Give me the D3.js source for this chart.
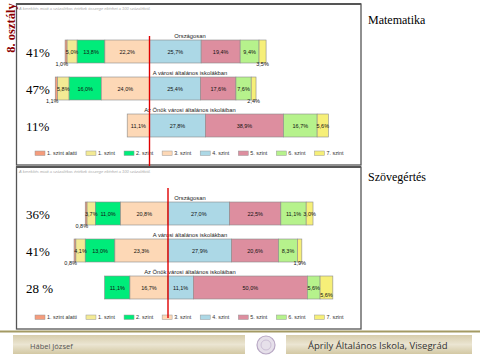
<!DOCTYPE html>
<html><head><meta charset="utf-8">
<script src="https://cdn.jsdelivr.net/npm/d3@7"></script>
<style>html,body{margin:0;padding:0;background:#fff;}svg{display:block;}</style>
</head><body>
<svg id="c" width="480" height="360"></svg>
<script>
// ---- data ----
const levels = ["1. szint alatti","1. szint","2. szint","3. szint","4. szint","5. szint","6. szint","7. szint"];
const groups = ["Országosan","A városi általános iskolákban","Az Önök városi általános iskoláiban"];
const mathValues = [
  [1.0, 5.0, 13.8, 22.2, 25.7, 19.4, 9.4, 3.5],
  [1.1, 5.8, 16.0, 24.0, 25.4, 17.6, 7.6, 2.4],
  [0, 0, 0, 11.1, 27.8, 38.9, 16.7, 5.6]
];
const readValues = [
  [0.8, 3.7, 11.0, 20.8, 27.0, 22.5, 11.1, 3.0],
  [0.8, 4.1, 13.0, 23.3, 27.9, 20.6, 8.3, 1.9],
  [0, 0, 11.1, 16.7, 11.1, 50.0, 5.6, 5.6]
];
const mathSide = ["41%", "47%", "11%"];
const readSide = ["36%", "41%", "28 %"];
// label placement: 0 = centre, 1 = below bar, 2 = lower part of bar
const mathLabelPos = [[1,0,0,0,0,0,0,1],[1,0,0,0,0,0,0,1],[0,0,0,0,0,0,0,0]];
const readLabelPos = [[1,0,0,0,0,0,0,0],[1,0,0,0,0,0,0,1],[0,0,0,0,0,0,0,2]];
const subjects = ["Matematika", "Szövegértés"];
const gradeLabel = "8. osztály";
const noteText = "A kerekítés miatt a százalékos értékek összege eltérhet a 100 százaléktól.";
const footerLeft = "Hábel József";
const footerRight = "Áprily Általános Iskola, Visegrád";

const colors = ["#f59c7c","#f3ea94","#00ec7a","#fdd8b6","#acd8e6","#dd8e9f","#b6f28c","#f6ef78"];

const svg = d3.select("#c");
const fmt = v => d3.format(".1f")(v).replace(".", ",") + "%";

function drawChart(cfg) {
  const g = svg.append("g");
  // box
  g.append("rect").attr("x", 16.5).attr("y", cfg.boxTop).attr("width", 344.5).attr("height", cfg.boxH)
    .attr("fill", "#fff").attr("stroke", "#555").attr("stroke-width", 1.3);
  g.append("line").attr("x1", 16).attr("x2", 361).attr("y1", cfg.boxTop).attr("y2", cfg.boxTop)
    .attr("stroke", "#555").attr("stroke-width", 2);
  g.append("text").attr("x", 19).attr("y", cfg.boxTop + 5.5).text(noteText)
    .attr("font-family", "Liberation Sans, Arial").attr("font-style", "italic")
    .attr("font-size", 4).attr("fill", "#aaa");

  const x = d3.scaleLinear().domain([-50, 50]).range(cfg.xRange);
  const y = d3.scaleBand().domain(groups).range(cfg.yRange).paddingInner(14 / 37).paddingOuter(0);

  cfg.values.forEach((vals, ri) => {
    const grp = groups[ri];
    const neg = d3.sum(vals.slice(0, 4));
    let cum = 0;
    const segs = vals.map((v, i) => { const s = { v, i, a: cum - neg, b: cum + v - neg }; cum += v; return s; });
    const y0 = y(grp), bh = y.bandwidth();
    g.append("text").attr("x", 190).attr("y", y0 - 2.5).attr("text-anchor", "middle")
      .attr("font-family", "Liberation Sans, Arial").attr("font-size", 5.8).attr("fill", "#222").text(grp);
    const row = g.append("g");
    row.selectAll("rect").data(segs.filter(s => s.v > 0)).join("rect")
      .attr("x", s => x(s.a)).attr("width", s => x(s.b) - x(s.a))
      .attr("y", y0).attr("height", bh)
      .attr("fill", s => colors[s.i]).attr("stroke", "#8a8a8a").attr("stroke-width", 0.6);
    row.selectAll("text").data(segs.filter(s => s.v > 0)).join("text")
      .attr("x", s => {
        const p = cfg.labelPos[ri][s.i];
        if (p === 1 && s.i === 0) return x(s.b) + 1;
        return (x(s.a) + x(s.b)) / 2;
      })
      .attr("y", s => {
        const p = cfg.labelPos[ri][s.i];
        if (p === 1) return y0 + bh + 3;
        if (p === 2) return y0 + bh - 2.5;
        return y0 + bh / 2 + 2;
      })
      .attr("text-anchor", s => (cfg.labelPos[ri][s.i] === 1 && s.i === 0) ? "end" : "middle")
      .attr("font-family", "Liberation Sans, Arial").attr("font-size", 5.5).attr("fill", "#111")
      .text(s => fmt(s.v));
    // side label
    svg.append("text").attr("x", 26).attr("y", y0 + bh / 2 + 5)
      .attr("font-family", "Liberation Serif, Times New Roman").attr("font-size", 13).attr("fill", "#000")
      .text(cfg.side[ri]);
  });

  // legend
  const lg = g.append("g");
  let lx = 35;
  levels.forEach((l, i) => {
    lg.append("rect").attr("x", lx).attr("y", cfg.legendY - 2).attr("width", 10).attr("height", 4.5)
      .attr("fill", colors[i]).attr("stroke", "#999").attr("stroke-width", 0.5);
    const t = lg.append("text").attr("x", lx + 12).attr("y", cfg.legendY + 2)
      .attr("font-family", "Liberation Sans, Arial").attr("font-size", 5.4).attr("fill", "#333").text(l);
    lx += 12 + t.node().getComputedTextLength() + 9;
  });

  // red reference line
  g.append("line").attr("x1", x(0)).attr("x2", x(0)).attr("y1", cfg.redTop).attr("y2", cfg.redBottom)
    .attr("stroke", "#e00000").attr("stroke-width", 1.4);

  svg.append("text").attr("x", 368).attr("y", cfg.subjY).text(cfg.subject)
    .attr("font-family", "Liberation Serif, Times New Roman").attr("font-size", 12).attr("fill", "#000");
}

drawChart({ boxTop: 4, boxH: 161, xRange: [49, 250], yRange: [40, 137], values: mathValues,
  labelPos: mathLabelPos, side: mathSide, legendY: 153, redTop: 36, redBottom: 167, subject: subjects[0], subjY: 24 });
drawChart({ boxTop: 167, boxH: 162, xRange: [54, 282], yRange: [202, 299], values: readValues,
  labelPos: readLabelPos, side: readSide, legendY: 317, redTop: 188, redBottom: 318, subject: subjects[1], subjY: 181 });

// grade label
svg.append("text").attr("transform", "translate(15,28) rotate(-90)").attr("text-anchor", "middle")
  .attr("font-family", "Liberation Serif, Times New Roman").attr("font-weight", "bold")
  .attr("font-size", 12.5).attr("fill", "#8b0000").text(gradeLabel);

// footer
const defs = svg.append("defs");
const gr = defs.append("linearGradient").attr("id", "fg").attr("x1", 0).attr("x2", 0).attr("y1", 0).attr("y2", 1);
gr.append("stop").attr("offset", "0%").attr("stop-color", "#d7cdab");
gr.append("stop").attr("offset", "50%").attr("stop-color", "#ebe5d2");
gr.append("stop").attr("offset", "100%").attr("stop-color", "#d3c8a3");
svg.append("line").attr("x1", 0).attr("x2", 480).attr("y1", 331.5).attr("y2", 331.5)
  .attr("stroke", "#a39a63").attr("stroke-width", 2);
svg.append("rect").attr("x", 13).attr("y", 335).attr("width", 232).attr("height", 19).attr("fill", "url(#fg)");
svg.append("rect").attr("x", 286).attr("y", 335).attr("width", 186).attr("height", 19).attr("fill", "url(#fg)");
svg.append("circle").attr("cx", 266).attr("cy", 345).attr("r", 9).attr("fill", "#e6e0ea").attr("stroke", "#b8a8c4").attr("stroke-width", 1.2);
svg.append("circle").attr("cx", 266).attr("cy", 345).attr("r", 5).attr("fill", "none").attr("stroke", "#c4b6cf").attr("stroke-width", 0.8);
svg.append("text").attr("x", 30).attr("y", 348.5).text(footerLeft)
  .attr("font-family", "Open Sans, Liberation Sans").attr("font-size", 7.5).attr("fill", "#555");
svg.append("text").attr("x", 308).attr("y", 349).text(footerRight)
  .attr("font-family", "Open Sans, Liberation Sans").attr("font-size", 9.5).attr("fill", "#333");
</script>
</body></html>
